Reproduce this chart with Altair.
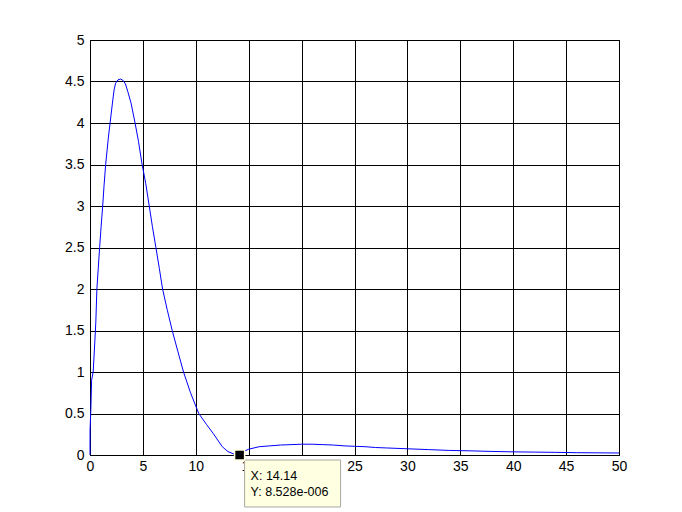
import altair as alt
import pandas as pd

# curve samples
t_vals = [0, 0.005, 0.08, 0.15, 0.3, 0.45, 0.55, 0.65, 0.78, 0.91, 1.05, 1.2, 1.33, 1.48,
          1.74, 1.9, 2.12, 2.28, 2.42, 2.65, 2.9, 3.15, 3.35, 3.57, 3.88, 4.26, 4.58, 4.9, 5.27, 5.6,
          5.9, 6.23, 6.55, 6.86, 7.3, 7.77, 8.3, 8.84, 9.5, 10.28, 11.0, 11.64, 12.5, 13.05,
          13.6, 14.14, 14.5, 15, 16, 17, 18, 19, 20, 21, 22, 23, 24, 25, 26, 27, 28, 30, 32,
          34, 36, 38, 40, 42, 44, 46, 48, 50]
v_vals = [0, 0.3, 0.55, 0.9, 1.0, 1.35, 1.6, 2.0, 2.25, 2.5, 2.75, 3.0, 3.25, 3.5,
          3.83, 4.0, 4.24, 4.4, 4.48, 4.52, 4.53, 4.51, 4.47, 4.38, 4.24, 4.0, 3.78, 3.52, 3.27, 3.0,
          2.75, 2.5, 2.25, 2.0, 1.75, 1.5, 1.25, 1.0, 0.75, 0.5, 0.37, 0.26, 0.10, 0.04,
          0.012, 0.0, 0.04, 0.07, 0.10, 0.11, 0.12, 0.125, 0.13, 0.13, 0.125, 0.12, 0.11, 0.105,
          0.10, 0.09, 0.085, 0.075, 0.065, 0.055, 0.05, 0.043, 0.038, 0.035, 0.032, 0.028,
          0.026, 0.024]

x_ticks = [0, 5, 10, 15, 20, 25, 30, 35, 40, 45, 50]
y_ticks = [0, 0.5, 1, 1.5, 2, 2.5, 3, 3.5, 4, 4.5, 5]

tip_x = [14.14]
tip_y = [8.528e-06]
tip_lines = ["X: 14.14", "Y: 8.528e-006"]

curve = pd.DataFrame({"t": t_vals, "v": v_vals})
tip = pd.DataFrame({"t": tip_x, "v": tip_y})
tip_text = pd.DataFrame({"t": tip_x * 2, "v": tip_y * 2, "label": tip_lines, "row": [0, 1]})

FONT = "Liberation Sans"

xs = alt.Scale(domain=[0, 50], nice=False, zero=False)
ys = alt.Scale(domain=[0, 5], nice=False, zero=False)

x_axis = alt.Axis(values=x_ticks, title=None, grid=True, ticks=False, labelFlush=False,
                  labelPadding=4, labelExpr="datum.value")
y_axis = alt.Axis(values=y_ticks, title=None, grid=True, ticks=False, labelFlush=False,
                  labelPadding=6, labelExpr="datum.value")

line = alt.Chart(curve).mark_line(color="#0000FF", strokeWidth=1).encode(
    x=alt.X("t:Q", scale=xs, axis=x_axis),
    y=alt.Y("v:Q", scale=ys, axis=y_axis),
)

box = alt.Chart(tip).mark_rect(
    fill="#FFFFE1", stroke="#A8A8A0", strokeWidth=1,
    xOffset=5, x2Offset=101, yOffset=5, y2Offset=52, clip=False,
).encode(x=alt.X("t:Q", scale=xs), x2="t:Q", y=alt.Y("v:Q", scale=ys), y2="v:Q")

marker = alt.Chart(tip).mark_point(
    shape="square", size=100, filled=True, color="black", stroke="#FFFFE1",
    strokeWidth=1.5, opacity=1,
).encode(x=alt.X("t:Q", scale=xs), y=alt.Y("v:Q", scale=ys))

text0 = alt.Chart(tip_text[tip_text.row == 0]).mark_text(
    align="left", baseline="alphabetic", dx=11, dy=25, font=FONT, fontSize=12.5, color="black"
).encode(x=alt.X("t:Q", scale=xs), y=alt.Y("v:Q", scale=ys), text="label:N")

text1 = alt.Chart(tip_text[tip_text.row == 1]).mark_text(
    align="left", baseline="alphabetic", dx=11, dy=41, font=FONT, fontSize=12.5, color="black"
).encode(x=alt.X("t:Q", scale=xs), y=alt.Y("v:Q", scale=ys), text="label:N")

chart = alt.layer(line, box, marker, text0, text1).properties(
    width=529, height=415,
    autosize=alt.AutoSizeParams(type="none"),
    padding={"left": 82, "top": 32, "right": 55, "bottom": 55},
    background="white",
).configure_view(
    stroke="black", strokeWidth=1
).configure_axis(
    gridColor="black", gridOpacity=1, gridWidth=1,
    domainColor="black", domainWidth=1,
    labelFont=FONT, labelFontSize=14, labelColor="black",
)

chart.save("out.html", embed_options={"renderer": "svg", "actions": False})
